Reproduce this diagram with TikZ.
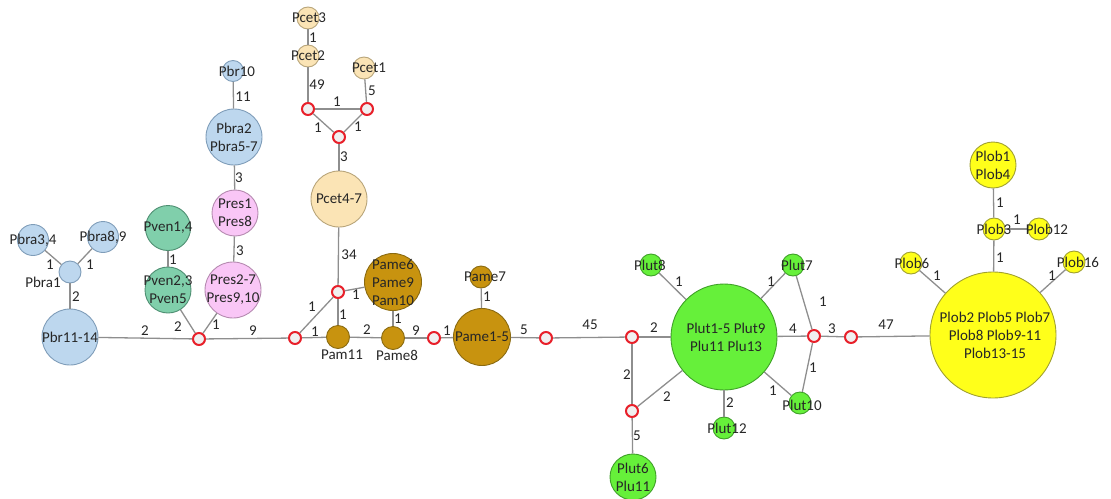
\documentclass[tikz,border=0pt]{standalone}
\usepackage{fontspec}
\setmainfont{Carlito}
\definecolor{bluef}{HTML}{BDD7EE}\definecolor{blued}{HTML}{7F9DB9}
\definecolor{pinkf}{HTML}{F9C6F6}\definecolor{pinkd}{HTML}{B58AB0}
\definecolor{venf}{HTML}{80CFAB}\definecolor{vend}{HTML}{4E8F72}
\definecolor{cetf}{HTML}{FBE4B5}\definecolor{cetd}{HTML}{B8A57A}
\definecolor{amef}{HTML}{C8930F}\definecolor{amed}{HTML}{8A6A10}
\definecolor{lutf}{HTML}{66F03A}\definecolor{lutd}{HTML}{3FA028}
\definecolor{lobf}{HTML}{FFFF1A}\definecolor{lobd}{HTML}{A0A030}
\definecolor{edgec}{HTML}{8E8E8E}\definecolor{hubr}{HTML}{E8202A}
\definecolor{txt}{HTML}{262626}
\tikzset{
  hap/.style={circle,inner sep=0pt,minimum size=#1,line width=0.9pt},
  blueh/.style={hap=#1,fill=bluef,draw=blued},
  pinkh/.style={hap=#1,fill=pinkf,draw=pinkd},
  venh/.style={hap=#1,fill=venf,draw=vend},
  ceth/.style={hap=#1,fill=cetf,draw=cetd},
  ameh/.style={hap=#1,fill=amef,draw=amed},
  luth/.style={hap=#1,fill=lutf,draw=lutd},
  lobh/.style={hap=#1,fill=lobf,draw=lobd},
  hub/.style={circle,inner sep=0pt,minimum size=12pt,draw=hubr,fill=gray!12,line width=2pt},
  tx/.style={text=txt,align=center,inner sep=0pt,font=\fontsize{15}{18}\selectfont},
  el/.style={text=txt,inner sep=0pt,font=\fontsize{15}{18}\selectfont},
  con/.style={draw=edgec,line width=1.3pt},
}
\begin{document}
\begin{tikzpicture}[x=1pt,y=-1pt]
\useasboundingbox (0,0) rectangle (1111,498);
% ---------- nodes ----------
\node[blueh=31] (pbra34) at (33,240) {};
\node[blueh=31] (pbra89) at (103,237) {};
\node[blueh=22] (pbra1) at (70,272) {};
\node[blueh=56] (pbr1114) at (70,337) {};
\node[venh=45] (pven14) at (168,228) {};
\node[venh=46] (pven23) at (168,290) {};
\node[pinkh=46] (pres18) at (235,213) {};
\node[pinkh=56] (pres27) at (233,290) {};
\node[blueh=56] (pbra2) at (234,137) {};
\node[blueh=21] (pbr10) at (233,71) {};
\node[ceth=22] (pcet3) at (308,18) {};
\node[ceth=22] (pcet2) at (308,56) {};
\node[ceth=22] (pcet1) at (364,68) {};
\node[ceth=56] (pcet47) at (339,199) {};
\node[ameh=57] (pame6) at (393,282) {};
\node[ameh=23] (pam11) at (338,337) {};
\node[ameh=23] (pame8) at (393,338) {};
\node[ameh=57] (pame15) at (482,337) {};
\node[ameh=22] (pame7) at (481,277) {};
\node[luth=106] (plut1) at (724,337) {};
\node[luth=22] (plut8) at (651,265) {};
\node[luth=22] (plut7) at (793,265) {};
\node[luth=22] (plut10) at (800,403) {};
\node[luth=22] (plut12) at (724,428) {};
\node[luth=46] (plut6) at (633,477) {};
\node[lobh=126] (plob2) at (993,335) {};
\node[lobh=46] (plob1) at (993,165) {};
\node[lobh=22] (plob3) at (994,229) {};
\node[lobh=22] (plob12) at (1039,229) {};
\node[lobh=22] (plob6) at (911,263) {};
\node[lobh=22] (plob16) at (1074,262) {};
% hubs
\node[hub] (h1) at (199,339) {};
\node[hub] (ha) at (308,109) {};
\node[hub] (hb) at (367,109) {};
\node[hub] (hc) at (339,137) {};
\node[hub] (hd) at (338,292) {};
\node[hub] (he) at (295,338) {};
\node[hub] (hf) at (434,338) {};
\node[hub] (hg) at (546,338) {};
\node[hub] (hh) at (632,337) {};
\node[hub] (hk) at (632,411) {};
\node[hub] (hi) at (814,336) {};
\node[hub] (hj) at (851,337) {};
% ---------- connectors ----------
\begin{scope}[on background layer/.style={}]
\draw[con] (pbra34) -- (pbra1);
\draw[con] (pbra89) -- (pbra1);
\draw[con] (pbra1) -- (pbr1114);
\draw[con] (pbr1114) -- (h1);
\draw[con] (pven14) -- (pven23);
\draw[con] (pven23) -- (h1);
\draw[con] (pres27) -- (h1);
\draw[con] (pres18) -- (pres27);
\draw[con] (pbra2) -- (pres18);
\draw[con] (pbr10) -- (pbra2);
\draw[con] (h1) -- (he);
\draw[con] (he) -- (pam11);
\draw[con] (he) -- (hd);
\draw[con] (hd) -- (pam11);
\draw[con] (hd) -- (pame6);
\draw[con] (hd) -- (pcet47);
\draw[con] (pcet47) -- (hc);
\draw[con] (hc) -- (ha);
\draw[con] (hc) -- (hb);
\draw[con] (ha) -- (hb);
\draw[con] (ha) -- (pcet2);
\draw[con] (pcet2) -- (pcet3);
\draw[con] (hb) -- (pcet1);
\draw[con] (pam11) -- (pame8);
\draw[con] (pame6) -- (pame8);
\draw[con] (pame8) -- (hf);
\draw[con] (hf) -- (pame15);
\draw[con] (pame7) -- (pame15);
\draw[con] (pame15) -- (hg);
\draw[con] (hg) -- (hh);
\draw[con] (hh) -- (plut1);
\draw[con] (hh) -- (hk);
\draw[con] (hk) -- (plut1);
\draw[con] (hk) -- (plut6);
\draw[con] (plut1) -- (plut8);
\draw[con] (plut1) -- (plut7);
\draw[con] (plut1) -- (plut12);
\draw[con] (plut1) -- (plut10);
\draw[con] (plut1) -- (hi);
\draw[con] (plut7) -- (hi);
\draw[con] (hi) -- (plut10);
\draw[con] (hi) -- (hj);
\draw[con] (hj) -- (plob2);
\draw[con] (plob2) -- (plob6);
\draw[con] (plob2) -- (plob16);
\draw[con] (plob2) -- (plob3);
\draw[con] (plob3) -- (plob1);
\draw[con] (plob3) -- (plob12);
\end{scope}
% ---------- node texts ----------
\node[tx] (t1) at (33,240) {Pbra3,4};
\node[tx] (t2) at (103,237) {Pbra8,9};
\node[tx] (t3) at (43,282) {Pbra1};
\node[tx] (t4) at (70,337) {Pbr11-14};
\node[tx] (t5) at (168,228) {Pven1,4};
\node[tx] (t6) at (168,290) {Pven2,3\\Pven5};
\node[tx] (t7) at (235,213) {Pres1\\Pres8};
\node[tx] (t8) at (233,290) {Pres2-7\\Pres9,10};
\node[tx] (t9) at (234,137) {Pbra2\\Pbra5-7};
\node[tx] (t10) at (237,71) {Pbr10};
\node[tx] (t11) at (309,18) {Pcet3};
\node[tx] (t12) at (308,56) {Pcet2};
\node[tx] (t13) at (369,68) {Pcet1};
\node[tx] (t14) at (339,199) {Pcet4-7};
\node[tx] (t15) at (393,282) {Pame6\\Pame9\\Pam10};
\node[tx] (t16) at (342,355) {Pam11};
\node[tx] (t17) at (397,355) {Pame8};
\node[tx] (t18) at (482,337) {Pame1-5};
\node[tx] (t19) at (485,277) {Pame7};
\node[tx] (t20) at (726,337) {Plut1-5 Plut9\\Plu11 Plu13};
\node[tx] (t21) at (650,265) {Plut8};
\node[tx] (t22) at (797,265) {Plut7};
\node[tx] (t23) at (802,405) {Plut10};
\node[tx] (t24) at (727,428) {Plut12};
\node[tx] (t25) at (633,477) {Plut6\\Plu11};
\node[tx] (t26) at (995,335) {Plob2 Plob5 Plob7\\Plob8 Plob9-11\\Plob13-15};
\node[tx] (t27) at (993,165) {Plob1\\Plob4};
\node[tx] (t28) at (994,229) {Plob3};
\node[tx] (t29) at (1047,229) {Plob12};
\node[tx] (t30) at (912,263) {Plob6};
\node[tx] (t31) at (1078,262) {Plob16};
% ---------- edge labels ----------
\node[el] (l1) at (50,265) {1};
\node[el] (l2) at (90,265) {1};
\node[el] (l3) at (76,297) {2};
\node[el] (l4) at (173,260) {1};
\node[el] (l5) at (240,251) {3};
\node[el] (l6) at (178,327) {2};
\node[el] (l7) at (216,325) {1};
\node[el] (l8) at (145,331) {2};
\node[el] (l9) at (253,331) {9};
\node[el] (l10) at (243,97) {11};
\node[el] (l11) at (239,178) {3};
\node[el] (l12) at (313,38) {1};
\node[el] (l13) at (317,85) {49};
\node[el] (l14) at (372,91) {5};
\node[el] (l15) at (337,102) {1};
\node[el] (l16) at (318,128) {1};
\node[el] (l17) at (358,127) {1};
\node[el] (l18) at (344,157) {3};
\node[el] (l19) at (349,255) {34};
\node[el] (l20) at (356,295) {1};
\node[el] (l21) at (343,315) {1};
\node[el] (l22) at (312,307) {1};
\node[el] (l23) at (315,332) {1};
\node[el] (l24) at (367,330) {2};
\node[el] (l25) at (398,319) {1};
\node[el] (l26) at (416,331) {9};
\node[el] (l27) at (447,331) {1};
\node[el] (l28) at (487,297) {1};
\node[el] (l29) at (524,330) {5};
\node[el] (l30) at (590,325) {45};
\node[el] (l31) at (654,328) {2};
\node[el] (l32) at (679,282) {1};
\node[el] (l33) at (771,282) {1};
\node[el] (l34) at (793,329) {4};
\node[el] (l35) at (823,302) {1};
\node[el] (l36) at (832,329) {3};
\node[el] (l37) at (813,368) {1};
\node[el] (l38) at (773,391) {1};
\node[el] (l39) at (730,403) {2};
\node[el] (l40) at (627,375) {2};
\node[el] (l41) at (667,397) {2};
\node[el] (l42) at (637,436) {5};
\node[el] (l43) at (886,325) {47};
\node[el] (l44) at (1000,203) {1};
\node[el] (l45) at (1017,220) {1};
\node[el] (l46) at (1000,258) {1};
\node[el] (l47) at (937,276) {1};
\node[el] (l48) at (1052,276) {1};
\end{tikzpicture}
\end{document}
